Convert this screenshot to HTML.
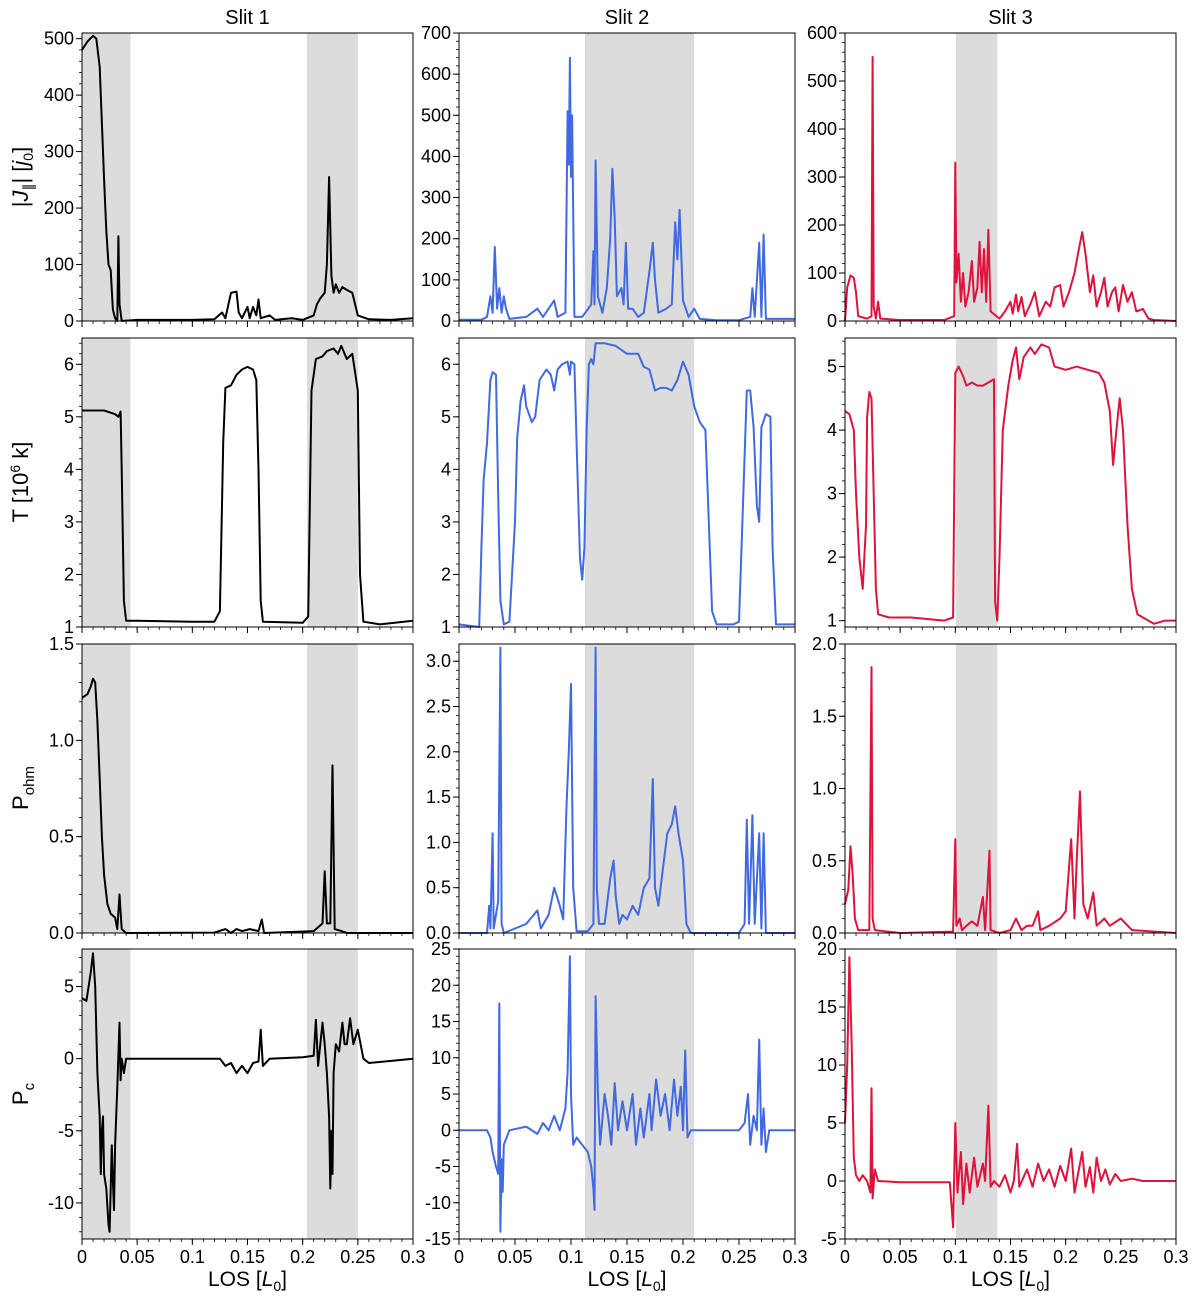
<!DOCTYPE html>
<html><head><meta charset="utf-8">
<style>
html,body{margin:0;padding:0;background:#fff;}
svg{display:block;font-family:"Liberation Sans",Arial,sans-serif;}
</style></head>
<body>
<svg id="fig" width="1200" height="1302" viewBox="0 0 1200 1302" xmlns="http://www.w3.org/2000/svg"></svg>
<script>
// ---------- data ----------
const xTicks = [0,0.05,0.1,0.15,0.2,0.25,0.3];
const xTickLabels = ["0","0.05","0.1","0.15","0.2","0.25","0.3"];
const slitTitles = ["Slit 1","Slit 2","Slit 3"];
const seriesColors = ["#000000","#4169e1","#dc143c"];

const bands1 = [[0,0.044],[0.204,0.25]];
const bands2 = [[0.1125,0.21]];
const bands3 = [[0.1005,0.138]];

const j_slit1 = [[0,480],[0.005,495],[0.01,505],[0.013,500],[0.016,450],[0.018,350],[0.02,250],[0.022,160],[0.024,100],[0.026,90],[0.028,20],[0.03,5],[0.032,0],[0.033,150],[0.034,30],[0.036,0],[0.05,2],[0.1,2],[0.12,3],[0.127,15],[0.13,5],[0.135,50],[0.14,52],[0.142,15],[0.145,5],[0.15,25],[0.152,5],[0.155,25],[0.158,10],[0.16,38],[0.162,5],[0.17,10],[0.175,2],[0.19,5],[0.2,2],[0.21,10],[0.213,30],[0.216,40],[0.22,50],[0.222,100],[0.224,255],[0.226,80],[0.228,50],[0.23,65],[0.233,50],[0.236,60],[0.24,55],[0.245,50],[0.25,10],[0.26,3],[0.28,2],[0.3,5]];
const j_slit2 = [[0,3],[0.02,3],[0.025,10],[0.028,60],[0.03,20],[0.032,180],[0.034,30],[0.036,80],[0.038,20],[0.04,60],[0.042,30],[0.045,5],[0.06,10],[0.07,30],[0.075,10],[0.085,50],[0.088,10],[0.095,20],[0.097,510],[0.098,380],[0.099,640],[0.1,350],[0.101,500],[0.103,10],[0.11,10],[0.118,40],[0.12,170],[0.121,40],[0.122,390],[0.124,60],[0.128,20],[0.132,80],[0.135,200],[0.137,370],[0.139,250],[0.141,60],[0.145,80],[0.147,40],[0.149,190],[0.151,30],[0.155,30],[0.16,10],[0.165,20],[0.17,120],[0.173,190],[0.175,100],[0.178,20],[0.185,30],[0.19,40],[0.193,240],[0.195,150],[0.197,270],[0.2,50],[0.205,10],[0.21,30],[0.215,5],[0.23,2],[0.25,2],[0.26,10],[0.262,80],[0.264,10],[0.268,190],[0.27,10],[0.272,210],[0.274,5],[0.3,5]];
const j_slit3 = [[0,0],[0.002,70],[0.005,95],[0.008,90],[0.01,60],[0.012,10],[0.02,5],[0.024,10],[0.025,550],[0.026,30],[0.028,5],[0.03,40],[0.032,5],[0.05,2],[0.09,2],[0.099,10],[0.1,330],[0.101,80],[0.103,140],[0.105,40],[0.107,100],[0.109,30],[0.112,60],[0.115,125],[0.117,40],[0.12,70],[0.122,165],[0.124,60],[0.126,150],[0.128,40],[0.13,190],[0.132,20],[0.14,5],[0.145,20],[0.15,40],[0.152,15],[0.155,55],[0.157,20],[0.16,50],[0.163,10],[0.168,35],[0.172,60],[0.176,10],[0.182,40],[0.186,30],[0.19,70],[0.195,75],[0.198,30],[0.203,60],[0.208,100],[0.212,150],[0.215,185],[0.218,140],[0.222,60],[0.225,95],[0.228,30],[0.232,60],[0.235,90],[0.238,30],[0.242,60],[0.245,70],[0.248,20],[0.252,75],[0.256,40],[0.26,60],[0.264,20],[0.27,25],[0.275,5],[0.28,2],[0.3,0]];

const t_slit1 = [[0,5.12],[0.02,5.12],[0.03,5.05],[0.033,5.0],[0.035,5.1],[0.036,4],[0.038,1.5],[0.04,1.12],[0.05,1.12],[0.1,1.1],[0.12,1.1],[0.125,1.3],[0.128,4.5],[0.13,5.55],[0.135,5.6],[0.14,5.8],[0.145,5.9],[0.15,5.95],[0.155,5.9],[0.158,5.7],[0.16,4.0],[0.162,1.5],[0.164,1.1],[0.2,1.08],[0.205,1.2],[0.208,5.5],[0.212,6.1],[0.218,6.15],[0.222,6.25],[0.228,6.3],[0.232,6.2],[0.235,6.35],[0.24,6.1],[0.245,6.2],[0.25,5.5],[0.252,2],[0.255,1.1],[0.27,1.05],[0.3,1.12]];
const t_slit2 = [[0,1.05],[0.018,1.0],[0.02,2.5],[0.022,3.8],[0.025,4.5],[0.028,5.7],[0.03,5.85],[0.033,5.8],[0.035,3.5],[0.037,1.5],[0.04,1.05],[0.045,1.1],[0.05,3],[0.052,4.6],[0.055,5.3],[0.058,5.6],[0.06,5.2],[0.065,4.9],[0.068,5.0],[0.072,5.7],[0.078,5.9],[0.082,5.8],[0.085,5.5],[0.088,5.9],[0.092,6.0],[0.097,6.05],[0.099,5.8],[0.1,6.05],[0.103,6.0],[0.105,4.5],[0.108,2.3],[0.11,1.9],[0.112,2.5],[0.114,4.8],[0.116,6.0],[0.118,6.1],[0.12,6.0],[0.122,6.4],[0.13,6.4],[0.14,6.35],[0.15,6.2],[0.16,6.2],[0.165,5.95],[0.17,5.9],[0.175,5.5],[0.18,5.55],[0.185,5.55],[0.19,5.5],[0.195,5.7],[0.2,6.05],[0.205,5.8],[0.21,5.2],[0.215,4.9],[0.22,4.75],[0.223,3],[0.226,1.3],[0.23,1.05],[0.245,1.05],[0.25,1.1],[0.253,3.0],[0.257,5.5],[0.26,5.5],[0.263,4.8],[0.266,3.3],[0.268,3.0],[0.27,4.8],[0.274,5.05],[0.278,5.0],[0.28,2.5],[0.283,1.05],[0.3,1.05]];
const t_slit3 = [[0,4.3],[0.004,4.25],[0.008,4.0],[0.01,3.0],[0.013,2.0],[0.016,1.5],[0.019,2.5],[0.02,4.2],[0.022,4.6],[0.024,4.5],[0.026,3.0],[0.028,1.5],[0.03,1.1],[0.04,1.05],[0.06,1.05],[0.09,1.0],[0.098,1.05],[0.1,4.9],[0.103,5.0],[0.107,4.85],[0.11,4.7],[0.115,4.75],[0.12,4.7],[0.125,4.7],[0.13,4.75],[0.135,4.8],[0.136,1.3],[0.138,1.0],[0.14,2.0],[0.143,4.0],[0.148,4.7],[0.152,5.1],[0.155,5.3],[0.158,4.8],[0.162,5.15],[0.168,5.3],[0.172,5.2],[0.178,5.35],[0.185,5.3],[0.19,5.0],[0.2,4.95],[0.21,5.0],[0.22,4.95],[0.23,4.9],[0.235,4.75],[0.24,4.3],[0.243,3.45],[0.246,4.0],[0.249,4.5],[0.252,4.0],[0.256,2.5],[0.26,1.5],[0.265,1.1],[0.28,0.95],[0.29,1.0],[0.3,1.0]];

const p_slit1 = [[0,1.22],[0.005,1.24],[0.008,1.28],[0.01,1.32],[0.012,1.3],[0.014,1.1],[0.016,0.8],[0.018,0.5],[0.02,0.3],[0.023,0.15],[0.026,0.1],[0.03,0.08],[0.032,0.02],[0.034,0.2],[0.036,0.02],[0.04,0],[0.12,0.002],[0.13,0.02],[0.135,0],[0.14,0.02],[0.145,0.01],[0.152,0.02],[0.16,0.01],[0.163,0.07],[0.165,0],[0.21,0.01],[0.218,0.05],[0.22,0.32],[0.222,0.05],[0.225,0.05],[0.227,0.87],[0.229,0.02],[0.235,0.01],[0.24,0],[0.3,0]];
const p_slit2 = [[0,0],[0.025,0],[0.027,0.3],[0.028,0.05],[0.03,1.1],[0.031,0.05],[0.035,0.35],[0.037,3.15],[0.038,0.1],[0.04,0],[0.05,0.05],[0.06,0.1],[0.07,0.25],[0.073,0.05],[0.08,0.2],[0.085,0.5],[0.09,0.3],[0.093,0.15],[0.096,1.4],[0.098,2.0],[0.1,2.75],[0.102,0.5],[0.105,0.02],[0.115,0.02],[0.12,0.1],[0.122,3.15],[0.123,0.5],[0.125,0.1],[0.13,0.1],[0.135,0.6],[0.138,0.8],[0.14,0.4],[0.143,0.1],[0.146,0.2],[0.15,0.15],[0.155,0.3],[0.16,0.2],[0.165,0.5],[0.17,0.6],[0.173,1.7],[0.175,0.5],[0.178,0.3],[0.182,0.7],[0.186,1.1],[0.19,1.2],[0.193,1.4],[0.196,1.1],[0.2,0.8],[0.203,0.1],[0.207,0],[0.25,0],[0.255,0.1],[0.257,1.25],[0.259,0.1],[0.262,1.3],[0.264,0.1],[0.268,1.1],[0.27,0.05],[0.272,1.1],[0.274,0],[0.3,0]];
const p_slit3 = [[0,0.2],[0.003,0.3],[0.005,0.6],[0.007,0.4],[0.009,0.1],[0.012,0.02],[0.022,0.02],[0.024,1.84],[0.025,0.1],[0.027,0.02],[0.05,0],[0.098,0.01],[0.1,0.65],[0.101,0.05],[0.104,0.1],[0.106,0.02],[0.11,0.05],[0.115,0.08],[0.12,0.05],[0.125,0.25],[0.127,0.02],[0.131,0.57],[0.132,0.02],[0.14,0],[0.15,0.02],[0.155,0.1],[0.16,0.02],[0.165,0.05],[0.17,0.05],[0.175,0.15],[0.177,0.02],[0.185,0.05],[0.195,0.1],[0.2,0.15],[0.205,0.65],[0.208,0.1],[0.21,0.5],[0.213,0.98],[0.216,0.2],[0.22,0.1],[0.225,0.28],[0.228,0.05],[0.235,0.1],[0.24,0.05],[0.25,0.1],[0.26,0.02],[0.3,0]];

const c_slit1 = [[0,4.2],[0.004,4.0],[0.006,5],[0.008,6],[0.01,7.3],[0.012,5],[0.014,-1],[0.016,-4],[0.017,-8],[0.018,-5],[0.019,-4],[0.02,-8],[0.022,-9],[0.024,-11.5],[0.025,-12],[0.026,-9],[0.027,-6],[0.028,-8.5],[0.029,-10.5],[0.03,-6],[0.032,-2],[0.034,2.5],[0.035,-1.5],[0.036,0],[0.038,-1],[0.04,0],[0.1,0],[0.125,0],[0.13,-0.5],[0.135,-0.3],[0.14,-1],[0.145,-0.5],[0.15,-1],[0.155,-0.3],[0.16,-0.2],[0.162,2],[0.164,-0.5],[0.17,0],[0.2,0.1],[0.21,0.2],[0.212,2.7],[0.214,-0.5],[0.218,2.5],[0.22,1],[0.222,-1],[0.224,-4],[0.225,-9],[0.226,-5],[0.227,-8],[0.228,-1],[0.23,1],[0.233,0.5],[0.236,2.5],[0.238,1],[0.24,1],[0.243,2.8],[0.246,1],[0.25,2],[0.255,0],[0.26,-0.3],[0.3,0]];
const c_slit2 = [[0,0],[0.025,0],[0.028,-1],[0.03,-3],[0.033,-5],[0.035,-6],[0.036,17.5],[0.037,-14],[0.038,-4],[0.039,-8.5],[0.04,-2],[0.045,0],[0.06,0.5],[0.07,-0.5],[0.075,1],[0.08,0],[0.085,2],[0.09,0],[0.095,3],[0.097,8],[0.099,24],[0.1,5],[0.102,-2],[0.105,-1],[0.11,-2],[0.115,-3],[0.118,-5],[0.12,-8],[0.121,-11],[0.122,18.5],[0.124,5],[0.126,-2],[0.13,5],[0.133,2],[0.136,-2],[0.139,6.5],[0.142,0],[0.146,4],[0.15,0],[0.155,5],[0.158,-2],[0.162,3],[0.165,-1],[0.17,5],[0.172,0],[0.176,7],[0.18,2],[0.184,5],[0.188,0],[0.192,7],[0.195,2],[0.198,6],[0.2,0],[0.202,11],[0.204,-1],[0.207,0],[0.215,0],[0.25,0],[0.255,1],[0.258,5],[0.26,-2],[0.263,2],[0.266,0],[0.268,12.5],[0.27,-2],[0.272,3],[0.274,-3],[0.277,0],[0.3,0]];
const c_slit3 = [[0,5],[0.002,10],[0.004,19.3],[0.006,12],[0.008,2],[0.01,0.5],[0.013,0],[0.016,0.5],[0.02,0],[0.023,-1],[0.024,8],[0.025,-1.5],[0.027,1],[0.03,0],[0.05,-0.1],[0.095,-0.1],[0.098,-4],[0.1,5],[0.102,-1],[0.105,2.5],[0.107,-2],[0.11,1.5],[0.113,-1],[0.117,2],[0.12,-0.5],[0.125,1.5],[0.127,0],[0.13,6.5],[0.132,-0.5],[0.135,0],[0.14,-0.5],[0.145,0.5],[0.15,-1],[0.153,0],[0.156,3.2],[0.158,-0.5],[0.165,1],[0.17,-0.5],[0.175,1.5],[0.18,0],[0.185,1],[0.19,-0.5],[0.195,1.3],[0.2,0],[0.205,2.8],[0.208,-1],[0.212,1],[0.215,2.5],[0.218,-0.5],[0.222,1.2],[0.225,-1],[0.228,2],[0.232,0],[0.236,1],[0.24,-0.3],[0.245,0.6],[0.25,0],[0.26,0.2],[0.27,0],[0.3,0]];

const yTicksJ1 = [0,100,200,300,400,500], yTicksJ2 = [0,100,200,300,400,500,600,700], yTicksJ3 = [0,100,200,300,400,500,600];
const yTicksT12 = [1,2,3,4,5,6], yTicksT3 = [1,2,3,4,5];
const yTicksP1 = [0,0.5,1.0,1.5], yTicksP2 = [0,0.5,1.0,1.5,2.0,2.5,3.0], yTicksP3 = [0,0.5,1.0,1.5,2.0];
const yTicksC1 = [-10,-5,0,5], yTicksC2 = [-15,-10,-5,0,5,10,15,20,25], yTicksC3 = [-5,0,5,10,15,20];

// ---------- layout ----------
const colX = [[82,413],[459,795],[845,1176]];
const rowY = [[33,321],[338,627],[644,933],[949,1239]];
const NS = "http://www.w3.org/2000/svg";
const svg = document.getElementById('fig');
function mk(tag, attrs, parent){const e=document.createElementNS(NS,tag);for(const k in attrs)e.setAttribute(k,attrs[k]);(parent||svg).appendChild(e);return e;}
function fmt(v,dec){return dec?v.toFixed(dec):String(v);}

const panels = [
 {r:0,c:0,data:j_slit1,yr:[0,510],ticks:yTicksJ1,minor:20,dec:0,bands:bands1,name:'current-slit1'},
 {r:0,c:1,data:j_slit2,yr:[0,700],ticks:yTicksJ2,minor:20,dec:0,bands:bands2,name:'current-slit2'},
 {r:0,c:2,data:j_slit3,yr:[0,600],ticks:yTicksJ3,minor:20,dec:0,bands:bands3,name:'current-slit3'},
 {r:1,c:0,data:t_slit1,yr:[1,6.5],ticks:yTicksT12,minor:0.2,dec:0,bands:bands1,name:'temperature-slit1'},
 {r:1,c:1,data:t_slit2,yr:[1,6.5],ticks:yTicksT12,minor:0.2,dec:0,bands:bands2,name:'temperature-slit2'},
 {r:1,c:2,data:t_slit3,yr:[0.9,5.45],ticks:yTicksT3,minor:0.2,dec:0,bands:bands3,name:'temperature-slit3'},
 {r:2,c:0,data:p_slit1,yr:[0,1.5],ticks:yTicksP1,minor:0.1,dec:1,bands:bands1,name:'ohmic-slit1'},
 {r:2,c:1,data:p_slit2,yr:[0,3.19],ticks:yTicksP2,minor:0.1,dec:1,bands:bands2,name:'ohmic-slit2'},
 {r:2,c:2,data:p_slit3,yr:[0,2.0],ticks:yTicksP3,minor:0.1,dec:1,bands:bands3,name:'ohmic-slit3'},
 {r:3,c:0,data:c_slit1,yr:[-12.5,7.6],ticks:yTicksC1,minor:1,dec:0,bands:bands1,name:'pc-slit1'},
 {r:3,c:1,data:c_slit2,yr:[-15,25],ticks:yTicksC2,minor:1,dec:0,bands:bands2,name:'pc-slit2'},
 {r:3,c:2,data:c_slit3,yr:[-5,20],ticks:yTicksC3,minor:1,dec:0,bands:bands3,name:'pc-slit3'}
];

panels.forEach(p=>{
  const [x0,x1]=colX[p.c],[y0,y1]=rowY[p.r];
  const sx=v=>x0+(v/0.3)*(x1-x0);
  const sy=v=>y1-(v-p.yr[0])/(p.yr[1]-p.yr[0])*(y1-y0);
  const g=mk('g',{});
  
  
  p.bands.forEach(b=>{
    const rc=mk('rect',{x:sx(b[0]),y:y0,width:sx(b[1])-sx(b[0]),height:y1-y0,fill:'#dcdcdc'},g);
    
    
  });
  const pts=p.data.map(d=>sx(d[0]).toFixed(1)+','+sy(d[1]).toFixed(1)).join(' ');
  const pl=mk('polyline',{points:pts,fill:'none',stroke:seriesColors[p.c],'stroke-width':2,'stroke-linejoin':'round'},g);
  
  
  const fr=mk('rect',{x:x0,y:y0,width:x1-x0,height:y1-y0,fill:'none',stroke:'#000','stroke-width':1},g);
  
  
  // y minor
  for(let v=Math.ceil(p.yr[0]/p.minor)*p.minor; v<=p.yr[1]+1e-9; v+=p.minor){
    const yy=sy(v); mk('line',{x1:x0-3,x2:x0,y1:yy,y2:yy,stroke:'#000','stroke-width':0.8},g);
  }
  p.ticks.forEach(v=>{
    const yy=sy(v);
    mk('line',{x1:x0-6,x2:x0,y1:yy,y2:yy,stroke:'#000','stroke-width':1},g);
    const t=mk('text',{x:x0-8,y:yy+6,'text-anchor':'end','font-size':18,fill:'#000'},g);
    t.textContent=fmt(v,p.dec);
    
    
  });
  // x ticks
  for(let v=0; v<=0.3001; v+=0.01){const xx=sx(v);mk('line',{x1:xx,x2:xx,y1:y1,y2:y1+3,stroke:'#000','stroke-width':0.8},g);}
  xTicks.forEach((v,i)=>{
    const xx=sx(v);
    mk('line',{x1:xx,x2:xx,y1:y1,y2:y1+6,stroke:'#000','stroke-width':1},g);
    if(p.r===3){
      const t=mk('text',{x:xx,y:y1+24,'text-anchor':'middle','font-size':18,fill:'#000'},g);
      t.textContent=xTickLabels[i];
      
      
    }
  });
  if(p.r===0){
    const t=mk('text',{x:(x0+x1)/2,y:24,'text-anchor':'middle','font-size':20,fill:'#000'},g);
    t.textContent=slitTitles[p.c];
    
    
  }
  if(p.r===3){
    const t=mk('text',{x:(x0+x1)/2,y:1286,'text-anchor':'middle','font-size':21,fill:'#000'},g);
    t.innerHTML='LOS [<tspan font-style="italic">L</tspan><tspan font-size="14" dy="5">0</tspan><tspan dy="-5">]</tspan>';
    
    
  }
});

// y axis titles
const yTitles=[
 {y:177,html:'|<tspan font-style="italic">J</tspan><tspan font-size="14" dy="5">∥</tspan><tspan dy="-5">| [</tspan><tspan font-style="italic">j</tspan><tspan font-size="14" dy="5">0</tspan><tspan dy="-5">]</tspan>',name:'y-title-current'},
 {y:482,html:'T [10<tspan font-size="14" dy="-8">6</tspan><tspan dy="8"> k]</tspan>',name:'y-title-temperature'},
 {y:788,html:'P<tspan font-size="15" dy="6">ohm</tspan>',name:'y-title-ohmic'},
 {y:1094,html:'P<tspan font-size="15" dy="6">c</tspan>',name:'y-title-pc'}
];
yTitles.forEach(o=>{
  const t=mk('text',{x:0,y:0,'text-anchor':'middle','font-size':22,fill:'#000',transform:`translate(28,${o.y}) rotate(-90)`});
  t.innerHTML=o.html;
  
  
});
</script>
</body></html>
